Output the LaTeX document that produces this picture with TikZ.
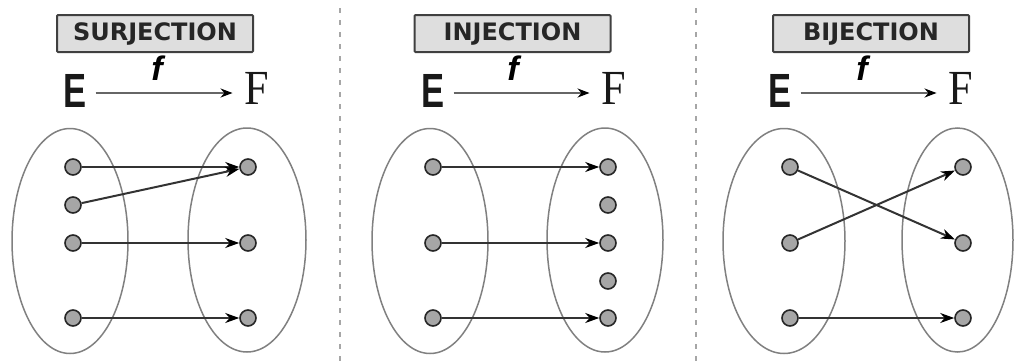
\documentclass[tikz,border=0pt]{standalone}
\usepackage{fontspec}
\newfontfamily\titlefont{DejaVu Sans}
\newfontfamily\efont{Liberation Sans}
\newfontfamily\ffont{Liberation Serif}
\usetikzlibrary{arrows.meta,shapes.geometric}
\begin{document}
\begin{tikzpicture}[x=1pt,y=-1pt,
  titlebox/.style={draw=black!75, fill=black!13, line width=2pt, rounded corners=1pt,
    minimum width=196pt, minimum height=37pt, inner sep=0pt, text=black!85,
    font=\titlefont\bfseries\fontsize{24}{24}\selectfont},
  setE/.style={inner sep=0pt, anchor=base, font=\efont\bfseries\fontsize{48}{48}\selectfont, text=black!90},
  setF/.style={inner sep=0pt, anchor=base, font=\ffont\fontsize{49}{49}\selectfont, text=black!90},
  flabel/.style={inner sep=0pt, anchor=base, font=\efont\bfseries\itshape\fontsize{34}{34}\selectfont},
  maparrow/.style={draw=black!60, line width=2pt, -{Stealth[length=12pt,width=9pt,black]}},
  setell/.style={ellipse, draw=black!50, line width=1.5pt, inner sep=0pt},
  dot/.style={circle, draw=black!85, fill=black!35, line width=1.6pt, minimum size=16pt, inner sep=0pt},
  map/.style={draw=black!80, line width=2pt, -{Stealth[length=14pt,width=10pt,black]}},
  sep/.style={draw=black!35, line width=1.5pt, dash pattern=on 5pt off 7pt}
]
\useasboundingbox (0,0) rectangle (1015,362);

% separators
\coordinate (sepAtop) at (340,8);
\coordinate (sepAbot) at (340,362);
\coordinate (sepBtop) at (696,8);
\coordinate (sepBbot) at (696,362);
\draw[sep] (sepAtop) -- (sepAbot);
\draw[sep] (sepBtop) -- (sepBbot);

% titles
\node[titlebox] (tS) at (155,33.5) {SURJECTION};
\node[titlebox] (tI) at (512.5,33.5) {INJECTION};
\node[titlebox] (tB) at (871,33.5) {BIJECTION};

% E -> F headers
\coordinate (ay) at (0,93);
\node[setE] (E1) at (75,107) {\scalebox{0.72}[1]{E}};
\node[setF] (F1) at (257,104) {\scalebox{0.9}[1]{F}};
\node[flabel] (f1) at (157,80) {f};
\draw[maparrow] ([xshift=9pt]E1.east |- ay) -- ([xshift=-12pt]F1.west |- ay);

\node[setE] (E2) at (433,107) {\scalebox{0.72}[1]{E}};
\node[setF] (F2) at (614,104) {\scalebox{0.9}[1]{F}};
\node[flabel] (f2) at (513,80) {f};
\draw[maparrow] ([xshift=9pt]E2.east |- ay) -- ([xshift=-12pt]F2.west |- ay);

\node[setE] (E3) at (780,107) {\scalebox{0.72}[1]{E}};
\node[setF] (F3) at (961,104) {\scalebox{0.9}[1]{F}};
\node[flabel] (f3) at (862,80) {f};
\draw[maparrow] ([xshift=9pt]E3.east |- ay) -- ([xshift=-12pt]F3.west |- ay);

% ellipses
\node[setell, minimum width=116pt, minimum height=225pt] (sL) at (70,241) {};
\node[setell, minimum width=118pt, minimum height=224pt] (sR) at (247,240) {};
\node[setell, minimum width=116pt, minimum height=225pt] (iL) at (430,241) {};
\node[setell, minimum width=116pt, minimum height=224pt] (iR) at (605,240) {};
\node[setell, minimum width=122pt, minimum height=225pt] (bL) at (784,241) {};
\node[setell, minimum width=111pt, minimum height=224pt] (bR) at (957.5,240) {};

% surjection dots
\node[dot] (sl1) at (73,167) {};
\node[dot] (sl2) at (73,205) {};
\node[dot] (sl3) at (73,243) {};
\node[dot] (sl4) at (73,318) {};
\node[dot] (sr1) at (248,167) {};
\node[dot] (sr2) at (248,243) {};
\node[dot] (sr3) at (248,318) {};
\draw[map] (sl1) -- (sr1);
\draw[map] (sl2) -- (sr1);
\draw[map] (sl3) -- (sr2);
\draw[map] (sl4) -- (sr3);

% injection dots
\node[dot] (il1) at (433,167) {};
\node[dot] (il2) at (433,243) {};
\node[dot] (il3) at (433,318) {};
\node[dot] (ir1) at (608,167) {};
\node[dot] (ir2) at (608,205) {};
\node[dot] (ir3) at (608,243) {};
\node[dot] (ir4) at (608,281) {};
\node[dot] (ir5) at (608,318) {};
\draw[map] (il1) -- (ir1);
\draw[map] (il2) -- (ir3);
\draw[map] (il3) -- (ir5);

% bijection dots
\node[dot] (bl1) at (790,167) {};
\node[dot] (bl2) at (790,243) {};
\node[dot] (bl3) at (790,318) {};
\node[dot] (br1) at (963,167) {};
\node[dot] (br2) at (963,243) {};
\node[dot] (br3) at (963,318) {};
\draw[map] (bl1) -- (br2);
\draw[map] (bl2) -- (br1);
\draw[map] (bl3) -- (br3);
\end{tikzpicture}
\end{document}
